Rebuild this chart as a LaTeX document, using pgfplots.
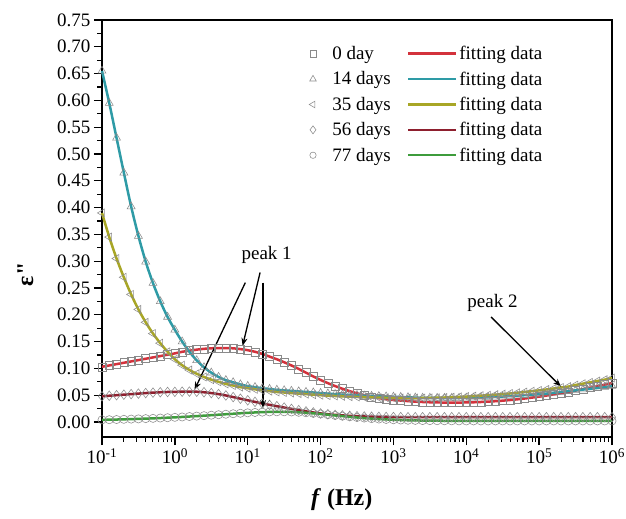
\documentclass[border=0pt]{standalone}
\usepackage{fontspec}
\setmainfont{Liberation Serif}
\usepackage{pgfplots}
\pgfplotsset{compat=1.18}
\usepackage{pgfplotstable}
\usetikzlibrary{arrows.meta}
\definecolor{c0}{HTML}{D3323C}
\definecolor{c14}{HTML}{2E9BA6}
\definecolor{c35}{HTML}{A8A626}
\definecolor{c56}{HTML}{8E1F2E}
\definecolor{c77}{HTML}{3E9C3C}
\definecolor{mk}{HTML}{8A8A8A}

\pgfplotstableread{
lx d0 d14 d35 d56 d77
-1.0 0.103 0.655 0.390 0.048 0.0040
-0.9 0.1055 0.595 0.345 0.049 0.0043
-0.8 0.108 0.530 0.305 0.050 0.0046
-0.7 0.1105 0.465 0.270 0.051 0.0050
-0.6 0.113 0.402 0.238 0.052 0.0054
-0.5 0.1155 0.347 0.210 0.053 0.0058
-0.4 0.118 0.299 0.186 0.054 0.0063
-0.3 0.1205 0.259 0.165 0.0548 0.0068
-0.2 0.123 0.225 0.147 0.0555 0.0074
-0.1 0.1255 0.196 0.131 0.056 0.0080
0.0 0.128 0.172 0.117 0.0563 0.0087
0.1 0.131 0.150 0.106 0.0566 0.0094
0.2 0.133 0.131 0.097 0.0567 0.0102
0.3 0.135 0.115 0.090 0.0565 0.0110
0.4 0.1365 0.102 0.084 0.0555 0.0118
0.5 0.1375 0.092 0.079 0.0540 0.0127
0.6 0.138 0.084 0.075 0.0520 0.0136
0.7 0.138 0.078 0.071 0.0495 0.0145
0.8 0.1375 0.074 0.068 0.0465 0.0154
0.9 0.136 0.070 0.065 0.0435 0.0163
1.0 0.134 0.067 0.063 0.0405 0.0171
1.1 0.131 0.065 0.061 0.0375 0.0178
1.2 0.127 0.063 0.059 0.0345 0.0184
1.3 0.122 0.0615 0.0575 0.0320 0.0188
1.4 0.117 0.060 0.056 0.0295 0.0190
1.5 0.1115 0.059 0.055 0.0270 0.0190
1.6 0.1055 0.058 0.054 0.0245 0.0187
1.7 0.099 0.057 0.053 0.0220 0.0181
1.8 0.092 0.056 0.052 0.0198 0.0172
1.9 0.085 0.055 0.051 0.0178 0.0161
2.0 0.0785 0.054 0.050 0.0160 0.0149
2.1 0.0725 0.053 0.0492 0.0145 0.0136
2.2 0.067 0.052 0.0485 0.0133 0.0122
2.3 0.062 0.051 0.0478 0.0123 0.0109
2.4 0.0575 0.0505 0.0472 0.0115 0.0096
2.5 0.0535 0.050 0.0467 0.0108 0.0084
2.6 0.050 0.049 0.0462 0.0103 0.0073
2.7 0.047 0.0485 0.0458 0.0099 0.0063
2.8 0.0445 0.048 0.0455 0.0096 0.0055
2.9 0.0425 0.0475 0.0452 0.0094 0.0048
3.0 0.041 0.047 0.045 0.0092 0.0042
3.1 0.040 0.0465 0.0448 0.0091 0.0037
3.2 0.039 0.046 0.0447 0.0090 0.0033
3.3 0.038 0.0455 0.0447 0.0090 0.0030
3.4 0.0373 0.045 0.0448 0.0090 0.0027
3.5 0.0368 0.045 0.045 0.0090 0.0025
3.6 0.0365 0.0448 0.0453 0.0090 0.0024
3.7 0.0363 0.0447 0.0457 0.0090 0.0023
3.8 0.0362 0.0447 0.0462 0.0090 0.0022
3.9 0.0363 0.0448 0.0468 0.0090 0.0021
4.0 0.0365 0.045 0.0475 0.0090 0.0020
4.1 0.0368 0.0453 0.0483 0.0090 0.0020
4.2 0.0373 0.0457 0.0492 0.0090 0.0020
4.3 0.038 0.0462 0.050 0.0090 0.0020
4.4 0.0388 0.0468 0.051 0.0090 0.0020
4.5 0.0398 0.0475 0.052 0.0090 0.0020
4.6 0.041 0.0483 0.0532 0.0090 0.0020
4.7 0.0423 0.0492 0.0545 0.0090 0.0020
4.8 0.0438 0.050 0.056 0.0090 0.0020
4.9 0.0455 0.051 0.0575 0.0090 0.0020
5.0 0.0473 0.052 0.059 0.0090 0.0020
5.1 0.0493 0.053 0.0607 0.0090 0.0020
5.2 0.0515 0.0545 0.0625 0.0090 0.0020
5.3 0.0538 0.056 0.0643 0.0090 0.0020
5.4 0.0562 0.0575 0.066 0.0090 0.0020
5.5 0.0587 0.059 0.069 0.0090 0.0020
5.6 0.0613 0.0605 0.0715 0.0090 0.0020
5.7 0.064 0.062 0.074 0.0090 0.0020
5.8 0.0668 0.0635 0.0765 0.0090 0.0020
5.9 0.0697 0.065 0.079 0.0090 0.0020
6.0 0.0727 0.067 0.082 0.0090 0.0020
}\data

\begin{document}
\begin{tikzpicture}
\pgfplotsset{
  mkstyle/.style={only marks, mk, line width=0.55pt},
  fitline/.style={line width=2.5pt, smooth, no marks},
  fitleg/.style={line width=2.5pt, legend image code/.code={\draw[##1,line width=2.5pt] (0pt,0pt) -- (48pt,0pt);}},
}
\begin{axis}[
  scale only axis, width=510pt, height=417pt,
  xmode=log, xmin=0.1, xmax=1e6,
  ymin=-0.028, ymax=0.75,
  xtickten={-1,0,1,2,3,4,5,6},
  xticklabels={10\textsuperscript{-1},10\textsuperscript{0},10\textsuperscript{1},10\textsuperscript{2},10\textsuperscript{3},10\textsuperscript{4},10\textsuperscript{5},10\textsuperscript{6}},
  ytick={0,0.05,0.10,0.15,0.20,0.25,0.30,0.35,0.40,0.45,0.50,0.55,0.60,0.65,0.70,0.75},
  minor y tick num=1,
  yticklabel style={/pgf/number format/.cd, fixed, fixed zerofill, precision=2, assume math mode=true},
  tick pos=left, tick align=outside,
  major tick length=8pt, minor tick length=4.5pt,
  major tick style={black, line width=1.3pt},
  minor tick style={black, line width=1.1pt},
  axis line style={line width=1.6pt},
  tick label style={font=\fontsize{19}{22}\selectfont, black},
  xlabel={\fontsize{24}{28}\selectfont\bfseries\itshape f\/\upshape\ (Hz)},
  xlabel style={at={(axis description cs:0.47,-0.15)}, anchor=center},
  ylabel={\fontsize{24}{28}\selectfont\bfseries ε\textquotedbl},
  ylabel style={at={(axis description cs:-0.15,0.39)}, anchor=center},
  legend columns=2,
  legend cell align=left,
  legend style={draw=none, fill=none, at={(axis description cs:0.40,0.947)}, anchor=north west,
    font=\fontsize{19}{22}\selectfont, row sep=6.5pt,
    /tikz/column 1/.style={column sep=14pt},
    /tikz/column 2/.style={column sep=14pt},
    /tikz/column 3/.style={column sep=0pt}},
  clip=false,
]
\addplot[mkstyle, forget plot, mark=square, mark size=4pt] table[x expr={10^\thisrow{lx}}, y=d0] {\data};
\addplot[mkstyle, forget plot, mark=triangle, mark size=4.6pt] table[x expr={10^\thisrow{lx}}, y=d14] {\data};
\addplot[mkstyle, forget plot, mark=triangle, mark size=4.6pt, every mark/.append style={rotate=90}] table[x expr={10^\thisrow{lx}}, y=d35] {\data};
\addplot[mkstyle, forget plot, mark=diamond, mark size=4.8pt] table[x expr={10^\thisrow{lx}}, y=d56] {\data};
\addplot[mkstyle, forget plot, mark=o, mark size=4.1pt] table[x expr={10^\thisrow{lx}}, y=d77] {\data};

\addplot[c0, fitline, forget plot] table[x expr={10^\thisrow{lx}}, y=d0] {\data};
\addplot[c14, fitline, forget plot] table[x expr={10^\thisrow{lx}}, y=d14] {\data};
\addplot[c35, fitline, forget plot] table[x expr={10^\thisrow{lx}}, y=d35] {\data};
\addplot[c56, fitline, forget plot] table[x expr={10^\thisrow{lx}}, y=d56] {\data};
\addplot[c77, fitline, forget plot] table[x expr={10^\thisrow{lx}}, y=d77] {\data};

\addlegendimage{mkstyle, mark=square, mark size=3.2pt}
\addlegendentry{0 day}
\addlegendimage{c0, fitleg}
\addlegendentry{fitting data}
\addlegendimage{mkstyle, mark=triangle, mark size=3.8pt}
\addlegendentry{14 days}
\addlegendimage{c14, fitleg}
\addlegendentry{fitting data}
\addlegendimage{mkstyle, mark=triangle, mark size=3.8pt, every mark/.append style={rotate=90}}
\addlegendentry{35 days}
\addlegendimage{c35, fitleg}
\addlegendentry{fitting data}
\addlegendimage{mkstyle, mark=diamond, mark size=4pt}
\addlegendentry{56 days}
\addlegendimage{c56, fitleg}
\addlegendentry{fitting data}
\addlegendimage{mkstyle, mark=o, mark size=3.2pt}
\addlegendentry{77 days}
\addlegendimage{c77, fitleg}
\addlegendentry{fitting data}

\node[font=\fontsize{19}{22}\selectfont] at (axis cs:18.2,0.312) {peak 1};
\node[font=\fontsize{19}{22}\selectfont] at (axis cs:22909,0.222) {peak 2};
\draw[line width=1.3pt, -{Stealth[length=8pt,width=6pt]}] (axis cs:9.27,0.26) -- (axis cs:1.862,0.06);
\draw[line width=1.3pt, -{Stealth[length=8pt,width=6pt]}] (axis cs:14.79,0.279) -- (axis cs:8.51,0.142);
\draw[line width=1.3pt, -{Stealth[length=8pt,width=6pt]}] (axis cs:16.22,0.26) -- (axis cs:16.22,0.026);
\draw[line width=1.3pt, -{Stealth[length=8pt,width=6pt]}] (axis cs:21878,0.196) -- (axis cs:199526,0.066);
\end{axis}
\pgfresetboundingbox
\path ([xshift=-102pt,yshift=-81pt]current axis.south west) rectangle ([xshift=14pt,yshift=20pt]current axis.north east);
\end{tikzpicture}
\end{document}
